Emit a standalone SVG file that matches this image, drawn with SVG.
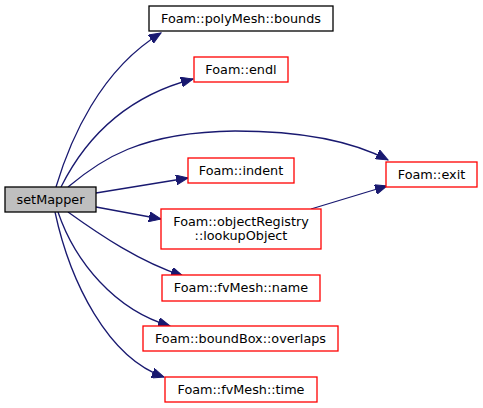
<svg xmlns="http://www.w3.org/2000/svg" width="483" height="408" viewBox="0 0 483 408">
<style>
.n rect{fill:#fff;stroke:#ff0000;stroke-width:1.3}
.n text{font-family:"DejaVu Sans",sans-serif;font-size:12.8px;text-anchor:middle;fill:#000}
.e path{fill:none;stroke:#191970;stroke-width:1.3;marker-end:url(#a)}
</style>
<defs>
<marker id="a" markerUnits="userSpaceOnUse" markerWidth="14" markerHeight="10" refX="12" refY="5" orient="auto">
<path d="M0,0 L12,5 L0,10 Z" fill="#191970" stroke="#191970"/>
</marker>
</defs>
<rect width="483" height="408" fill="#fff"/>
<g class="e" id="edges">
<path d="M56,187 C70,140 100,70 161,33"/>
<path d="M61,187 C82,145 120,98 193,79"/>
<path d="M68,187 C100,160 140,132 235,131 C300,131 350,140 388,160"/>
<path d="M96,193 L188,178"/>
<path d="M96,207 L161,219"/>
<path d="M311,209 L387,186"/>
<path d="M68,212 C100,235 140,262 183,276"/>
<path d="M58,212 C75,262 115,310 170,326"/>
<path d="M55,212 C70,282 108,358 164,377"/>
</g>
<g class="n" id="setMapper"><rect x="5" y="187" width="91" height="25" style="fill:#bfbfbf;stroke:#000"/><text x="50.5" y="204">setMapper</text></g>
<g class="n" id="bounds"><rect x="149" y="6" width="184" height="25" style="stroke:#000"/><text x="241" y="23">Foam::polyMesh::bounds</text></g>
<g class="n" id="endl"><rect x="194" y="57" width="94" height="25"/><text x="241" y="74">Foam::endl</text></g>
<g class="n" id="exit"><rect x="386" y="162" width="91" height="25"/><text x="431.5" y="179">Foam::exit</text></g>
<g class="n" id="indent"><rect x="188" y="158" width="106" height="25"/><text x="241" y="175">Foam::indent</text></g>
<g class="n" id="lookupObject"><rect x="161" y="209" width="160" height="40"/><text x="241" y="225.5">Foam::objectRegistry</text><text x="241" y="240">::lookupObject</text></g>
<g class="n" id="name"><rect x="162" y="275" width="158" height="26"/><text x="241" y="292">Foam::fvMesh::name</text></g>
<g class="n" id="overlaps"><rect x="143" y="326" width="195" height="25"/><text x="240.5" y="343">Foam::boundBox::overlaps</text></g>
<g class="n" id="time"><rect x="165" y="377" width="152" height="25"/><text x="241" y="394">Foam::fvMesh::time</text></g>
</svg>
